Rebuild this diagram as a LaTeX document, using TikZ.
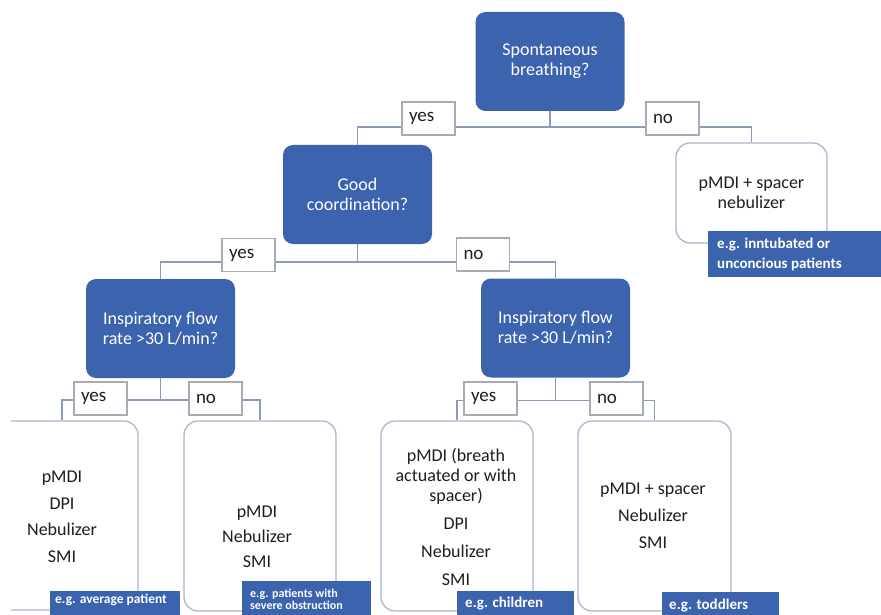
\documentclass[tikz,border=0pt]{standalone}
\usepackage{fontspec}
\setmainfont{Carlito}
\definecolor{qblue}{RGB}{59,99,174}
\definecolor{boxline}{RGB}{172,182,206}
\definecolor{connline}{RGB}{140,154,190}
\definecolor{labline}{RGB}{168,170,182}
\definecolor{ink}{RGB}{30,30,30}
\begin{document}
\begin{tikzpicture}[x=1pt,y=-1pt,
  question/.style={fill=qblue, text=white, rounded corners=10pt, minimum width=149pt, minimum height=99pt, align=center, inner sep=0pt, font=\fontsize{18}{20}\selectfont},
  result/.style={draw=boxline, line width=1.3pt, fill=white, rounded corners=14pt, inner sep=0pt},
  restext/.style={text=ink, align=center, inner sep=0pt, font=\fontsize{18}{20}\selectfont},
  answer/.style={draw=labline, fill=white, line width=1.2pt, minimum height=33pt, text width=39pt, inner xsep=7pt, inner ysep=0pt, align=left, text=ink, font=\fontsize{19}{21}\selectfont},
  conn/.style={draw=connline, line width=1.5pt},
  callout/.style={fill=qblue, inner sep=0pt, anchor=north west},
  calltext/.style={text=white, align=left, inner sep=0pt, anchor=west, font=\bfseries\fontsize{15}{20}\selectfont}]
\useasboundingbox (0,0) rectangle (881,615);
\clip (0,0) rectangle (881,615);

% question boxes
\node[question] (q1) at (550,61.5) {Spontaneous\\breathing?};
\node[question] (q2) at (357.5,194.5) {Good\\coordination?};
\node[question] (q3) at (160.5,328.5) {Inspiratory flow\\rate >30 L/min?};
\node[question] (q4) at (555.5,328) {Inspiratory flow\\rate >30 L/min?};

% result boxes
\node[result, minimum width=151pt, minimum height=100pt, align=center, text=ink, font=\fontsize{18}{20}\selectfont] (r0) at (751.5,193) {pMDI + spacer\\nebulizer};
\begin{scope}
\clip (11,0) rectangle (881,615);
\node[result, minimum width=152pt, minimum height=189pt] (r1) at (62,515.5) {};
\end{scope}
\node[result, minimum width=152pt, minimum height=190pt] (r2) at (260,516) {};
\node[result, minimum width=152pt, minimum height=190pt] (r3) at (457,516) {};
\node[result, minimum width=153pt, minimum height=190pt] (r4) at (654.5,516) {};

\node[restext] (r1t) at (62,517) {pMDI\\[6.5pt]DPI\\[6.5pt]Nebulizer\\[6.5pt]SMI};
\node[restext] (r2t) at (257,537) {pMDI\\[5pt]Nebulizer\\[5pt]SMI};
\node[restext] (r3t) at (456,516.5) {pMDI (breath\\actuated or with\\spacer)\\[8pt]DPI\\[8pt]Nebulizer\\[8pt]SMI};
\node[restext] (r4t) at (653,515.5) {pMDI + spacer\\[7pt]Nebulizer\\[7pt]SMI};

% connectors
\draw[conn] (q1.south) -- ++(0,16) -| (q2.north);
\draw[conn] (q1.south) -- ++(0,16) -| (r0.north);
\draw[conn] (q2.south) -- ++(0,18) -| (q3.north);
\draw[conn] (q2.south) -- ++(0,18) -| (q4.north);
\draw[conn] (q3.south) -- ++(0,22) -| (r1.north);
\draw[conn] (q3.south) -- ++(0,22) -| (r2.north);
\draw[conn] (q4.south) -- ++(0,23) -| (r3.north);
\draw[conn] (q4.south) -- ++(0,23) -| (r4.north);

% answer labels
\node[answer] (a1) at (428.5,118.5) {yes};
\node[answer] (a2) at (672.5,118.5) {no};
\node[answer] (a3) at (248.5,255) {yes};
\node[answer] (a4) at (483,254.5) {no};
\node[answer] (a5) at (100.5,398.5) {yes};
\node[answer] (a6) at (215.5,398.5) {no};
\node[answer] (a7) at (490.5,398.5) {yes};
\node[answer] (a8) at (616.5,398.5) {no};

% callouts
\node[callout, minimum width=180pt, minimum height=46pt] (c0) at (708,231) {};
\node[calltext] (c0t) at (717,254) {e.g. inntubated or\\unconcious patients};
\node[callout, minimum width=130pt, minimum height=30pt] (c1) at (50,591) {};
\node[calltext, font=\bfseries\fontsize{13.5}{16}\selectfont] (c1t) at (55,600) {e.g. average patient};
\node[callout, minimum width=129pt, minimum height=40pt] (c2) at (242,581) {};
\node[calltext, font=\bfseries\fontsize{12}{11.5}\selectfont] (c2t) at (250,599.5) {e.g. patients with\\severe obstruction};
\node[callout, minimum width=117pt, minimum height=30pt] (c3) at (457,591) {};
\node[calltext] (c3t) at (465,604) {e.g. children};
\node[callout, minimum width=117pt, minimum height=30pt] (c4) at (662,592) {};
\node[calltext] (c4t) at (669,606) {e.g. toddlers};
\end{tikzpicture}
\end{document}
